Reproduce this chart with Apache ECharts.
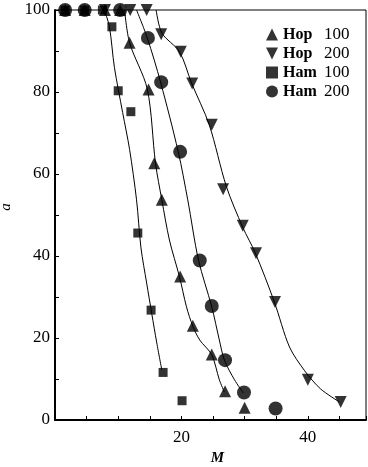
<!DOCTYPE html>
<html>
<head>
<meta charset="utf-8">
<script src="https://cdn.jsdelivr.net/npm/echarts@6/dist/echarts.min.js"></script>
<style>
	html, body { margin: 0; padding: 0; background: #fff; }
	#main { width: 368px; height: 467px; }
</style>
</head>
<body>
<div id="main"></div>
<script>
// 测量点 [M, a]
var hop100 = [[1.6, 100], [4.7, 100], [7.9, 100], [10.3, 100], [11.8, 92], [14.8, 80.6], [15.7, 62.6], [16.9, 53.7], [19.8, 35], [21.8, 23], [24.8, 16], [26.9, 7], [30, 3]];
var hop200 = [[7.9, 100], [11.9, 100], [14.5, 100], [16.8, 94.1], [19.9, 89.8], [21.7, 82.1], [24.8, 72], [26.6, 56.3], [29.7, 47.4], [31.8, 40.7], [34.8, 28.8], [40, 9.8], [45.2, 4.4]];
var ham100 = [[1.6, 100], [4.7, 100], [7.5, 100], [9, 95.9], [10, 80.3], [12, 75.2], [13.1, 45.6], [15.2, 26.8], [17.1, 11.6], [20.1, 4.7]];
var ham200 = [[1.6, 100], [4.7, 100], [10.3, 100], [14.7, 93.2], [16.8, 82.4], [19.8, 65.4], [22.9, 38.9], [24.8, 27.8], [26.9, 14.6], [29.9, 6.7], [34.9, 2.8]];

// 拟合曲线（从图上读出的点）
var hop100Curve = [[11, 100], [11.8, 92], [14.6, 80.7], [15.9, 62.6], [16.9, 53.7], [18.1, 43.9], [19.7, 34.9], [20.8, 27.6], [21.8, 22.9], [22.9, 19.5], [24.8, 15.9], [26, 9.8], [26.8, 6.8]];
var hop200Curve = [[16, 100], [16.9, 94.4], [19.7, 89.8], [21.6, 82.2], [24.4, 72], [27.1, 57], [29.7, 47], [31.7, 40.7], [34.7, 28.8], [37.1, 17.8], [39.5, 12], [42, 7.6], [45, 4.4]];
var ham100Curve = [[7.8, 100], [8.6, 96], [9.4, 86], [10.7, 75], [11.8, 66], [12.9, 53.7], [13.6, 42], [14.5, 33.4], [15.3, 26], [16.1, 18.8], [16.9, 12.2]];
var ham200Curve = [[12.9, 100], [14.6, 93.2], [16.7, 82.4], [19.5, 65.4], [21, 53.7], [22.7, 39], [24.8, 27.6], [26, 19.5], [26.8, 14.6], [28.4, 9.8], [29.8, 6.6]];

var names = ['Hop 100', 'Hop 200', 'Ham 100', 'Ham 200'];
var xLabels = [20, 40];			//横轴只标20和40
var yLabels = [0, 20, 40, 60, 80, 100];

var font = 'Liberation Serif';
var downIcon = 'path://M0,0L10,0L5,10Z';

var chart = echarts.init(document.querySelector('#main'));

function curve(name, data) {
	return {
		name: name,
		type: 'line',
		data: data,
		smooth: 0.3,
		symbol: 'none',
		silent: true,
		lineStyle: { color: '#000', width: 1 },
		z: 1
	};
}

function points(name, data, symbol, size, rotate) {
	return {
		name: name,
		type: 'scatter',
		data: data,
		symbol: symbol,
		symbolSize: size,
		symbolRotate: rotate || 0,
		itemStyle: { color: '#000' },
		z: 3
	};
}

var option = {
	animation: false,
	backgroundColor: '#fff',
	grid: {
		left: 55, right: 2, top: 10, bottom: 47,
		outerBoundsMode: 'none',
		show: true,
		borderColor: '#000',
		borderWidth: 1
	},
	legend: {
		orient: 'vertical',
		left: 261,
		top: 21,
		itemWidth: 12,
		itemHeight: 12,
		itemGap: 2,
		data: [
			{ name: names[0], icon: 'triangle' },
			{ name: names[1], icon: downIcon },
			{ name: names[2], icon: 'rect' },
			{ name: names[3], icon: 'circle' }
		],
		formatter: function (name) {
			var p = name.split(' ');
			return '{a|' + p[0] + ' }{b|' + p[1] + '}';
		},
		textStyle: {
			fontFamily: font, fontSize: 16, color: '#000', lineHeight: 14,
			rich: {
				a: { fontFamily: font, fontSize: 16, fontWeight: 'bold', width: 41, lineHeight: 14 },
				b: { fontFamily: font, fontSize: 17, lineHeight: 14 }
			}
		}
	},
	xAxis: {
		type: 'value',
		min: 0,
		max: 49.2,
		interval: 5,
		name: 'M',
		nameLocation: 'middle',
		nameGap: 30,
		nameTextStyle: { fontFamily: font, fontSize: 15, fontStyle: 'italic', fontWeight: 'bold', color: '#000', padding: [0, 0, 0, 14] },
		splitLine: { show: false },
		axisLine: { lineStyle: { color: '#000', width: 2 } },
		axisTick: { inside: true, length: 4, lineStyle: { color: '#000' } },
		axisLabel: {
			fontFamily: font, fontSize: 17, color: '#000', margin: 9,
			formatter: function (v) { return xLabels.indexOf(v) >= 0 ? String(v) : ''; }
		}
	},
	yAxis: {
		type: 'value',
		min: 0,
		max: 100,
		interval: 10,
		name: 'a',
		nameLocation: 'middle',
		nameRotate: 90,
		nameGap: 37,
		nameTextStyle: { fontFamily: font, fontSize: 15, fontStyle: 'italic', color: '#000', padding: [0, 0, 0, 16] },
		splitLine: { show: false },
		axisLine: { lineStyle: { color: '#000', width: 2 } },
		axisTick: { inside: true, length: 4, lineStyle: { color: '#000' } },
		axisLabel: {
			fontFamily: font, fontSize: 17, color: '#000', margin: 5,
			formatter: function (v) { return yLabels.indexOf(v) >= 0 ? String(v) : ''; }
		}
	},
	series: [
		curve('c1', hop100Curve),
		curve('c2', hop200Curve),
		curve('c3', ham100Curve),
		curve('c4', ham200Curve),
		points(names[2], ham100, 'rect', 9),
		points(names[0], hop100, 'triangle', 12),
		points(names[1], hop200, 'triangle', 12, 180),
		points(names[3], ham200, 'circle', 14)
	]
};
chart.setOption(option);
</script>
</body>
</html>
